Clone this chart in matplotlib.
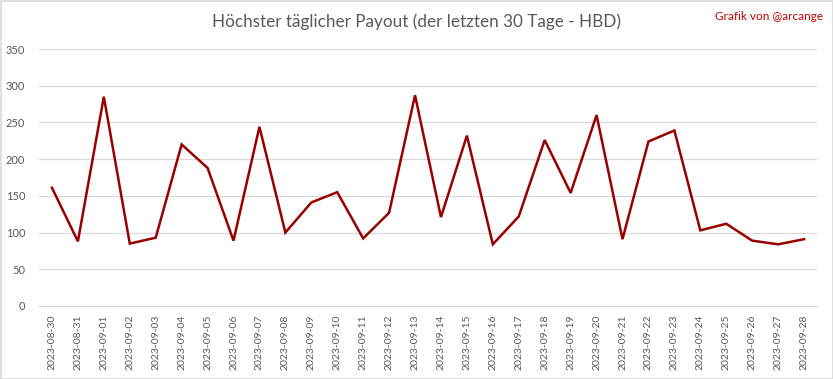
import matplotlib
matplotlib.use("Agg")
import matplotlib.pyplot as plt
from matplotlib.patches import Rectangle

dates = ["2023-08-30", "2023-08-31", "2023-09-01", "2023-09-02", "2023-09-03",
         "2023-09-04", "2023-09-05", "2023-09-06", "2023-09-07", "2023-09-08",
         "2023-09-09", "2023-09-10", "2023-09-11", "2023-09-12", "2023-09-13",
         "2023-09-14", "2023-09-15", "2023-09-16", "2023-09-17", "2023-09-18",
         "2023-09-19", "2023-09-20", "2023-09-21", "2023-09-22", "2023-09-23",
         "2023-09-24", "2023-09-25", "2023-09-26", "2023-09-27", "2023-09-28"]
payout = [161, 88, 285, 85, 93, 220, 188, 89, 244, 100,
          141, 155, 92, 127, 287, 121, 232, 84, 122, 226,
          154, 260, 91, 224, 239, 103, 112, 89, 84, 91]
yticks = [0, 50, 100, 150, 200, 250, 300, 350]

plt.rcParams['font.family'] = ['Lato', 'DejaVu Sans']

fig = plt.figure(figsize=(8.33, 3.79), dpi=100)
ax = fig.add_axes([39/833, 1-306/379, (817-39)/833, (306-49)/379])

x = list(range(len(dates)))
ax.plot(x, payout, color="#990000", linewidth=1.8, solid_joinstyle="miter")
ax.set_xlim(-0.5, len(dates) - 0.5)
ax.set_ylim(0, 350)
ax.set_yticks(yticks)
ax.set_yticklabels([str(v) for v in yticks], fontsize=8, color="#595959")
ax.set_xticks(x)
ax.set_xticklabels(dates, rotation=90, fontsize=7.5, color="#595959")
ax.tick_params(axis="both", length=0, pad=6)
ax.tick_params(axis="y", pad=10)
ax.grid(axis="y", color="#d9d9d9", linewidth=0.9)
ax.set_axisbelow(True)
for s in ["top", "right", "left"]:
    ax.spines[s].set_visible(False)
ax.spines["bottom"].set_color("#d9d9d9")
ax.spines["bottom"].set_linewidth(0.9)

fig.text(0.5, 1-22/379, "Höchster täglicher Payout (der letzten 30 Tage - HBD)",
         ha="center", va="center", fontsize=12.3, color="#595959")
fig.text(1-10/833, 1-16/379, "Grafik von @arcange", ha="right", va="center",
         fontsize=8.5, color="#c00000")

fig.patches.append(Rectangle((0.5/833, 0.5/379), 1-1/833, 1-1/379,
                             transform=fig.transFigure, fill=False,
                             edgecolor="#d9d9d9", linewidth=1.2))

fig.savefig("out.png", dpi=100)
